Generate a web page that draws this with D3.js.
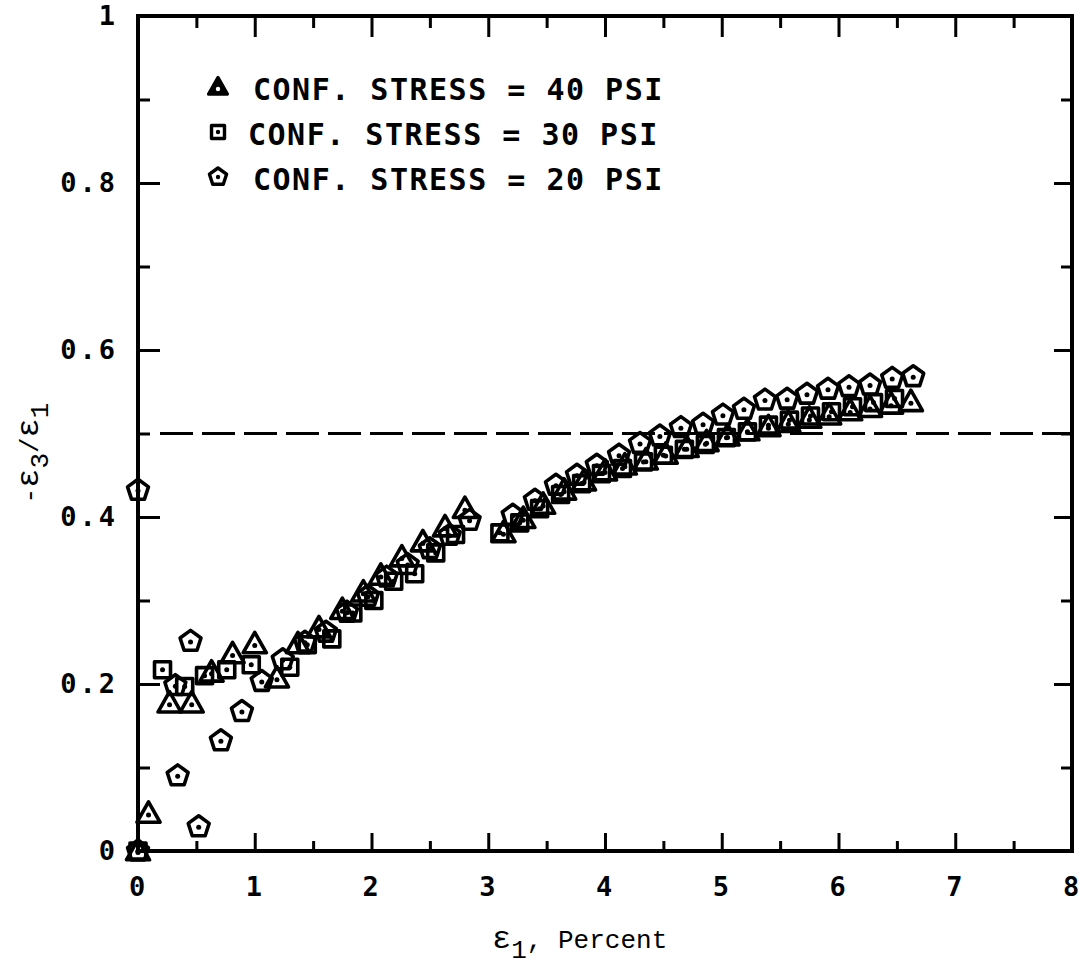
<!DOCTYPE html>
<html>
<head>
<meta charset="utf-8">
<script src="https://cdn.jsdelivr.net/npm/d3@7"></script>
<style>
  html, body { margin: 0; padding: 0; background: #fff; }
  svg { display: block; }
  .tick text { font-family: "DejaVu Sans Mono", monospace; font-weight: bold; font-size: 27px; fill: #000; font-feature-settings: "zero" 1; }
</style>
</head>
<body>
<svg id="chart" width="1087" height="973"></svg>
<script>
// ---- Data ----
const xTicks = [0, 1, 2, 3, 4, 5, 6, 7, 8];
const yTicks = [0, 0.2, 0.4, 0.6, 0.8, 1];
const yTickLabels = ["0", "0.2", "0.4", "0.6", "0.8", "1"];
const legendLabels = ["CONF. STRESS = 40 PSI", "CONF. STRESS = 30 PSI", "CONF. STRESS = 20 PSI"];
const referenceLine = 0.5;

// 40 PSI (triangles)
const tri40X = [0, 0.09, 0.27, 0.46, 0.63, 0.81, 1.0, 1.19, 1.37, 1.55, 1.75, 1.93, 2.08, 2.26, 2.44, 2.63, 2.8,
  3.13, 3.3, 3.47, 3.65, 3.82, 4.0, 4.17, 4.35, 4.52, 4.7, 4.87, 5.05, 5.22, 5.4, 5.57, 5.75, 5.92, 6.1, 6.27, 6.45, 6.62];
const tri40Y = [0, 0.045, 0.177, 0.177, 0.214, 0.236, 0.248, 0.207, 0.248, 0.267, 0.289, 0.31, 0.33, 0.352, 0.37, 0.388, 0.41,
  0.381, 0.398, 0.415, 0.432, 0.443, 0.455, 0.462, 0.468, 0.475, 0.483, 0.490, 0.497, 0.503, 0.508, 0.513, 0.518, 0.522, 0.527, 0.531, 0.535, 0.538];

// 30 PSI (squares)
const sq30X = [0, 0.21, 0.4, 0.57, 0.76, 0.97, 1.3, 1.45, 1.66, 1.84, 2.02, 2.19, 2.37, 2.55, 2.72,
  3.1, 3.27, 3.44, 3.62, 3.8, 3.97, 4.15, 4.33, 4.5, 4.68, 4.86, 5.04, 5.22, 5.4, 5.58, 5.76, 5.94, 6.12, 6.3, 6.48];
const sq30Y = [0, 0.217, 0.197, 0.210, 0.217, 0.223, 0.220, 0.247, 0.254, 0.285, 0.300, 0.323, 0.332, 0.357, 0.379,
  0.381, 0.393, 0.41, 0.427, 0.44, 0.452, 0.458, 0.466, 0.474, 0.481, 0.487, 0.495, 0.502, 0.51, 0.516, 0.521, 0.526, 0.532, 0.537, 0.542];

// 20 PSI (pentagons)
const pent20X = [0, 0.0, 0.32, 0.34, 0.45, 0.52, 0.71, 0.89, 1.06, 1.24, 1.43, 1.61, 1.79, 1.97, 2.13, 2.31, 2.5, 2.67, 2.84,
  3.21, 3.4, 3.58, 3.76, 3.93, 4.12, 4.3, 4.47, 4.65, 4.84, 5.01, 5.19, 5.37, 5.56, 5.73, 5.91, 6.09, 6.27, 6.46, 6.64];
const pent20Y = [0, 0.432, 0.198, 0.090, 0.251, 0.029, 0.132, 0.167, 0.203, 0.229, 0.250, 0.262, 0.286, 0.305, 0.328, 0.343, 0.362, 0.378, 0.396,
  0.402, 0.420, 0.438, 0.450, 0.462, 0.474, 0.488, 0.497, 0.507, 0.511, 0.522, 0.529, 0.540, 0.541, 0.547, 0.553, 0.556, 0.558, 0.566, 0.568];

// ---- Layout ----
const svg = d3.select("#chart");
const x = d3.scaleLinear().domain([0, 8]).range([138, 1072]);
const y = d3.scaleLinear().domain([0, 1]).range([851, 16]);

// marker shapes
function trianglePath(s) { return `M0,${-0.55*s} L${0.55*s},${0.42*s} L${-0.55*s},${0.42*s} Z`; }
function squarePath(s) { const h = s/2; return `M${-h},${-h} H${h} V${h} H${-h} Z`; }
function pentagonPath(r) {
  const pts = d3.range(5).map(i => {
    const a = -Math.PI/2 + i * 2*Math.PI/5;
    return [r*Math.cos(a), r*Math.sin(a)];
  });
  return "M" + pts.map(p => p[0].toFixed(2) + "," + p[1].toFixed(2)).join("L") + "Z";
}

// ---- Axes (inward ticks on all four sides) ----
const minorX = d3.range(0.5, 8, 1);
const minorY = d3.range(0.1, 1, 0.2);

function styleAxis(g) {
  g.select(".domain").remove();
  g.selectAll(".tick line").attr("stroke", "#000").attr("stroke-width", 3);
}

svg.append("g").attr("transform", `translate(0,${y(0)})`)
  .call(d3.axisBottom(x).tickValues(xTicks).tickSize(-18).tickPadding(26).tickFormat(d3.format("d")))
  .call(styleAxis);
svg.append("g").attr("transform", `translate(0,${y(0)})`)
  .call(d3.axisBottom(x).tickValues(minorX).tickSize(-10).tickFormat(""))
  .call(styleAxis);
svg.append("g").attr("transform", `translate(0,${y(1)})`)
  .call(d3.axisTop(x).tickValues(xTicks).tickSize(-21).tickFormat(""))
  .call(styleAxis);
svg.append("g").attr("transform", `translate(0,${y(1)})`)
  .call(d3.axisTop(x).tickValues(minorX).tickSize(-12).tickFormat(""))
  .call(styleAxis);
svg.append("g").attr("transform", `translate(${x(0)},0)`)
  .call(d3.axisLeft(y).tickValues(yTicks).tickSize(-22).tickPadding(20)
    .tickFormat((d, i) => yTickLabels[i]))
  .call(styleAxis);
svg.append("g").attr("transform", `translate(${x(0)},0)`)
  .call(d3.axisLeft(y).tickValues(minorY).tickSize(-12).tickFormat(""))
  .call(styleAxis);
svg.append("g").attr("transform", `translate(${x(8)},0)`)
  .call(d3.axisRight(y).tickValues(yTicks).tickSize(-18).tickFormat(""))
  .call(styleAxis);
svg.append("g").attr("transform", `translate(${x(8)},0)`)
  .call(d3.axisRight(y).tickValues(minorY).tickSize(-11).tickFormat(""))
  .call(styleAxis);

svg.selectAll(".tick text").attr("letter-spacing", 3);

// frame
svg.append("rect")
  .attr("x", x(0)).attr("y", y(1))
  .attr("width", x(8) - x(0)).attr("height", y(0) - y(1))
  .attr("fill", "none").attr("stroke", "#000").attr("stroke-width", 4);

// dashed reference line
svg.append("line")
  .attr("x1", x(0) + 22).attr("x2", x(8))
  .attr("y1", y(referenceLine)).attr("y2", y(referenceLine))
  .attr("stroke", "#000").attr("stroke-width", 3)
  .attr("stroke-dasharray", "33,9");

// ---- Series ----
const series = [
  { xs: tri40X, ys: tri40Y, path: trianglePath(21), dy: 1.5 },
  { xs: sq30X, ys: sq30Y, path: squarePath(16), dy: 0 },
  { xs: pent20X, ys: pent20Y, path: pentagonPath(11), dy: 0.5 }
];

series.forEach(s => {
  const pts = s.xs.map((v, i) => [v, s.ys[i]]);
  const g = svg.append("g");
  const m = g.selectAll("g").data(pts).join("g")
    .attr("transform", d => `translate(${x(d[0])},${y(d[1])})`);
  m.append("path").attr("d", s.path)
    .attr("fill", "none").attr("stroke", "#000").attr("stroke-width", 3.6)
    .attr("stroke-linejoin", "round");
  m.append("circle").attr("cx", 0).attr("cy", s.dy).attr("r", 2.5).attr("fill", "#000");
});

// ---- Legend ----
const legendY = [87, 132, 177];
const legendTextY = [100, 145, 190];
const legendTextX = [253, 248, 253];
const legendPaths = [trianglePath(17), squarePath(13), pentagonPath(9)];
legendLabels.forEach((lab, i) => {
  const g = svg.append("g").attr("transform", `translate(218,${legendY[i]})`);
  g.append("path").attr("d", legendPaths[i])
    .attr("fill", i === 0 ? "#000" : "none").attr("stroke", "#000").attr("stroke-width", 3.4)
    .attr("stroke-linejoin", "round");
  g.append("circle").attr("cx", 0).attr("cy", i === 0 ? 2 : 0).attr("r", 2.2)
    .attr("fill", i === 0 ? "#fff" : "#000");
  svg.append("text")
    .attr("x", legendTextX[i]).attr("y", legendTextY[i])
    .attr("font-family", "DejaVu Sans Mono, monospace")
    .attr("font-weight", "bold").attr("font-size", 30)
    .attr("letter-spacing", 1.5)
    .text(lab);
});

// ---- Axis titles ----
const xt = svg.append("text")
  .attr("x", 492).attr("y", 948)
  .attr("font-family", "Liberation Mono, Courier New, monospace")
  .attr("font-size", 26).attr("fill", "#000");
xt.append("tspan").attr("font-size", 32).text("ε");
xt.append("tspan").attr("baseline-shift", "-40%").text("1");
xt.append("tspan").text(", Percent");

const yt = svg.append("text")
  .attr("transform", "translate(38,453) rotate(-90)")
  .attr("text-anchor", "middle")
  .attr("font-family", "Liberation Mono, Courier New, monospace")
  .attr("font-size", 26).attr("fill", "#000");
yt.append("tspan").text("-");
yt.append("tspan").attr("font-size", 32).text("ε");
yt.append("tspan").attr("baseline-shift", "-40%").text("3");
yt.append("tspan").text("/");
yt.append("tspan").attr("font-size", 32).text("ε");
yt.append("tspan").attr("baseline-shift", "-40%").text("1");
</script>
</body>
</html>
